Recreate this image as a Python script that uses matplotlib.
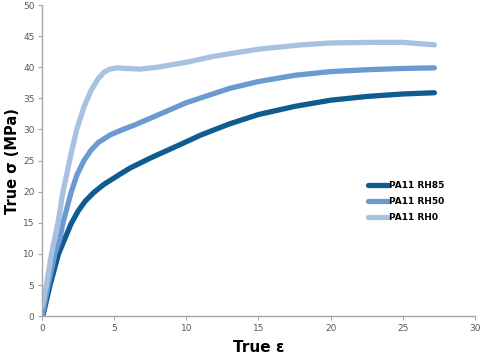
import matplotlib.pyplot as plt

# strain / stress
eps_rh85 = [0.05, 0.55, 1.14, 1.57, 2.0, 2.5, 3.0, 3.6, 4.3, 5.4, 6.1, 7.5, 9.6, 11, 13, 15, 17.5, 20, 22.5, 25, 27.2]
sig_rh85 = [0, 5.0, 10.0, 12.4, 14.8, 16.9, 18.5, 19.9, 21.2, 22.8, 23.8, 25.4, 27.6, 29.1, 30.9, 32.4, 33.7, 34.7, 35.3, 35.7, 35.9]

eps_rh50 = [0, 0.42, 0.88, 1.22, 1.45, 2.0, 2.4, 2.9, 3.4, 3.9, 4.7, 5.5, 6.5, 8, 10, 13, 15, 17.5, 20, 22.5, 25, 27.2]
sig_rh50 = [0, 5.0, 10.0, 12.3, 15.0, 19.8, 22.6, 25.0, 26.7, 27.9, 29.1, 29.9, 30.8, 32.3, 34.3, 36.6, 37.7, 38.7, 39.3, 39.6, 39.8, 39.9]

eps_rh0 = [0, 0.3, 0.65, 1.1, 1.45, 2.0, 2.4, 2.9, 3.4, 3.9, 4.3, 4.7, 5.2, 5.8, 6.8, 8, 10, 12, 15, 18, 20, 23, 25, 27.2]
sig_rh0 = [1.5, 5.0, 10.0, 15.0, 20.0, 26.0, 30.0, 33.6, 36.3, 38.2, 39.2, 39.7, 39.9, 39.8, 39.7, 40.0, 40.8, 41.8, 42.9, 43.6, 43.9, 44.0, 44.0, 43.6]

labels = ['PA11 RH85', 'PA11 RH50', 'PA11 RH0']
colors = ['#0F5C91', '#6A9AD0', '#A9C1E0']

fig = plt.figure(figsize=(4.84, 3.58), dpi=100)
ax = fig.add_axes([0.087, 0.117, 0.894, 0.869])

for x, y, lab, c in zip([eps_rh85, eps_rh50, eps_rh0], [sig_rh85, sig_rh50, sig_rh0], labels, colors):
    ax.plot(x, y, color=c, linewidth=3.8, solid_capstyle='round', solid_joinstyle='round', label=lab)

ax.set_xlim(0, 30)
ax.set_ylim(0, 50)
ax.set_xticks(range(0, 31, 5))
ax.set_yticks(range(0, 51, 5))
ax.tick_params(labelsize=6.5, colors='#595959', length=3, width=0.8, color='#A6A6A6', pad=2.5)
for side in ['top', 'right']:
    ax.spines[side].set_visible(False)
for side in ['left', 'bottom']:
    ax.spines[side].set_color('#A6A6A6')
    ax.spines[side].set_linewidth(1)

ax.set_xlabel('True ε', fontsize=11, fontweight='bold', labelpad=5)
ax.set_ylabel('True σ (MPa)', fontsize=10.5, fontweight='bold', labelpad=2)

leg = ax.legend(loc='upper left', bbox_to_anchor=(0.735, 0.46), frameon=False,
                fontsize=6.5, handlelength=2.2, handletextpad=0.1, labelspacing=0.75)
for t in leg.get_texts():
    t.set_fontweight('bold')

fig.savefig('out.png', dpi=100)
